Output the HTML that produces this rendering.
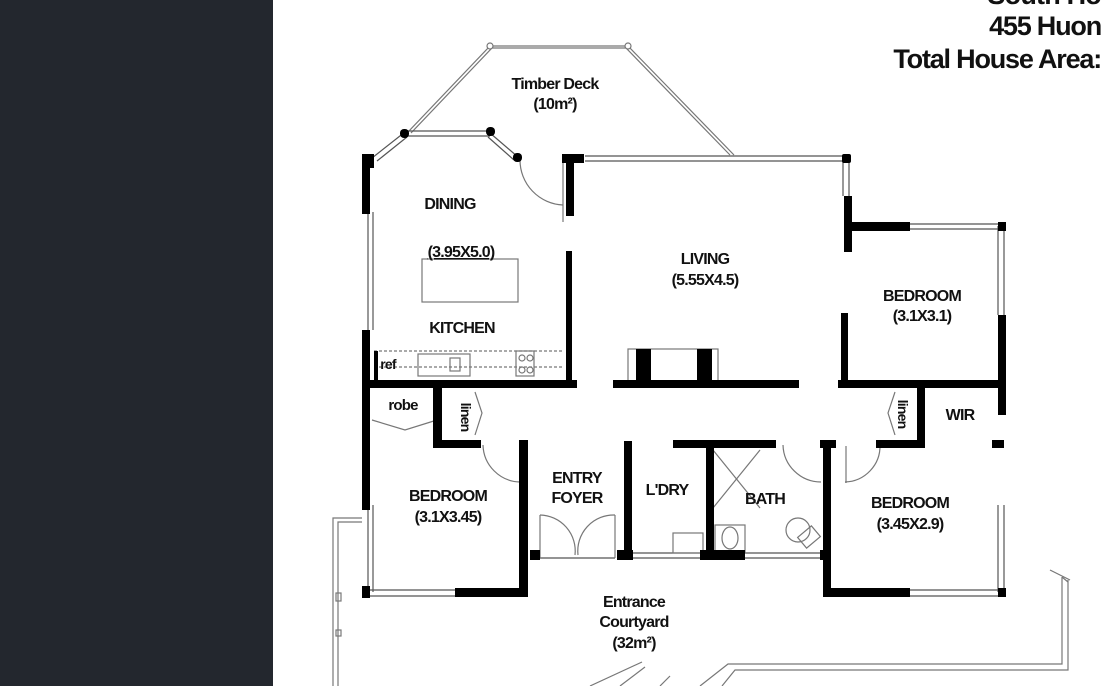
<!DOCTYPE html>
<html><head><style>
body{margin:0;width:1101px;height:686px;overflow:hidden;background:#fff}
svg{display:block}
text{font-family:"Liberation Sans",sans-serif;font-weight:bold;fill:#111;text-anchor:middle;letter-spacing:-0.8px}
</style></head><body>
<svg width="1101" height="686" viewBox="0 0 1101 686">
<rect x="0" y="0" width="273" height="686" fill="#23272e"/>
<!-- title -->
<text x="1101" y="4" font-size="27" style="text-anchor:end">South Ho</text>
<text x="1101" y="35" font-size="27" style="text-anchor:end;letter-spacing:-1.2px">455 Huon</text>
<text x="1101" y="68" font-size="27" style="text-anchor:end;letter-spacing:-1.2px">Total House Area:</text>

<g fill="none" stroke="#777" stroke-width="1.2">
<polyline points="408,132 490,46 628,46 734,155"/>
<polyline points="411,133 492,48 626,48 730,155"/>
<circle cx="490" cy="46" r="3" fill="#fff"/><circle cx="628" cy="46" r="3" fill="#fff"/>
<polyline points="362,518 333,518 333,686"/><polyline points="362,522 338,522 338,686"/>
<rect x="336" y="593" width="5" height="8"/><rect x="336" y="630" width="5" height="6"/>
<polyline points="1050,570 1070,580"/><line x1="1062" y1="577" x2="1068" y2="582"/>
<polyline points="1062,577 1062,664 728,664 700,686"/>
<polyline points="1068,580 1068,670 735,670 722,686"/>
<polyline points="642,662 590,686"/><polyline points="645,667 620,686"/>
<line x1="660" y1="686" x2="670" y2="676"/>
<g stroke="#555">
<line x1="368" y1="212" x2="368" y2="330"/><line x1="373" y1="212" x2="373" y2="330"/>
<line x1="405" y1="131" x2="490" y2="131"/><line x1="405" y1="136" x2="490" y2="136"/>
<line x1="372" y1="158" x2="405" y2="132"/><line x1="377" y1="161" x2="407" y2="137"/>
<line x1="490" y1="133" x2="518" y2="157"/><line x1="488" y1="137" x2="514" y2="160"/>
<line x1="585" y1="156" x2="845" y2="156"/><line x1="585" y1="161" x2="845" y2="161"/>
<line x1="843" y1="160" x2="843" y2="196"/><line x1="849" y1="160" x2="849" y2="196"/>
<line x1="910" y1="224" x2="1000" y2="224"/><line x1="910" y1="229" x2="1000" y2="229"/>
<line x1="998" y1="226" x2="998" y2="315"/><line x1="1004" y1="226" x2="1004" y2="315"/>
<line x1="998" y1="505" x2="998" y2="592"/><line x1="1004" y1="505" x2="1004" y2="592"/>
<line x1="368" y1="505" x2="368" y2="592"/><line x1="373" y1="505" x2="373" y2="592"/>
<line x1="368" y1="590" x2="455" y2="590"/><line x1="368" y1="596" x2="455" y2="596"/>
<line x1="910" y1="590" x2="1000" y2="590"/><line x1="910" y1="596" x2="1000" y2="596"/>
<line x1="633" y1="553" x2="700" y2="553"/><line x1="633" y1="558" x2="700" y2="558"/>
<line x1="745" y1="553" x2="820" y2="553"/><line x1="745" y1="558" x2="820" y2="558"/>
<line x1="540" y1="558" x2="615" y2="558"/>
</g>
<path d="M520,160 A45,45 0 0 0 563,205"/><line x1="563" y1="160" x2="563" y2="222"/>
<path d="M483,445 A38,38 0 0 0 520,482"/><line x1="520" y1="445" x2="520" y2="483"/>
<path d="M783,445 A38,38 0 0 0 821,482"/>
<path d="M880,445 A36,36 0 0 1 845,482"/><line x1="846" y1="446" x2="846" y2="483"/>
<path d="M540,515 A36,36 0 0 1 575,555"/><line x1="540" y1="515" x2="540" y2="558"/>
<path d="M615,515 A36,36 0 0 0 578,555"/><line x1="615" y1="515" x2="615" y2="558"/>
<polyline points="372,420 405,430 437,420"/>
<polyline points="475,392 482,413 475,435"/>
<polyline points="895,392 888,413 895,435"/>
<rect x="422" y="259" width="96" height="43"/>
<rect x="628" y="349" width="90" height="32"/>
<line x1="374" y1="351" x2="563" y2="351" stroke-dasharray="3,2"/>
<line x1="374" y1="367" x2="563" y2="367" stroke-dasharray="3,2"/>
<rect x="418" y="354" width="52" height="22"/><rect x="450" y="358" width="10" height="13"/>
<rect x="516" y="351" width="18" height="25"/><circle cx="522" cy="358" r="3"/><circle cx="530" cy="358" r="3"/><circle cx="522" cy="370" r="3"/><circle cx="530" cy="370" r="3"/>
<rect x="673" y="533" width="30" height="20"/>
<rect x="715" y="525" width="30" height="28"/><ellipse cx="730" cy="538" rx="8" ry="11"/>
<ellipse cx="798" cy="530" rx="12" ry="12"/><rect x="800" y="530" width="18" height="14" transform="rotate(-40 809 537)"/>
<line x1="713" y1="450" x2="760" y2="508"/><line x1="760" y1="450" x2="713" y2="508"/>
</g>

<g fill="#000">
<rect x="362" y="154" width="12" height="14"/>
<rect x="362" y="154" width="8" height="60"/>
<rect x="362" y="330" width="8" height="180"/>
<rect x="400" y="129" width="9" height="9" rx="4"/><rect x="486" y="127" width="9" height="9" rx="4"/><rect x="513" y="153" width="9" height="9" rx="4"/>
<rect x="562" y="154" width="22" height="9"/><rect x="566" y="154" width="8" height="62"/>
<rect x="566" y="251" width="6" height="135"/>
<rect x="842" y="154" width="9" height="9" rx="2"/>
<rect x="844" y="196" width="8" height="56"/><rect x="844" y="222" width="66" height="9"/>
<rect x="998" y="222" width="8" height="9"/>
<rect x="998" y="315" width="8" height="100"/><rect x="992" y="440" width="12" height="8"/>
<rect x="841" y="313" width="7" height="72"/>
<rect x="362" y="380" width="215" height="8"/>
<rect x="613" y="380" width="186" height="8"/>
<rect x="838" y="380" width="168" height="8"/>
<rect x="636" y="349" width="15" height="34"/><rect x="697" y="349" width="15" height="34"/>
<rect x="374" y="351" width="4" height="29"/>
<rect x="433" y="384" width="9" height="64"/><rect x="433" y="440" width="48" height="8"/>
<rect x="519" y="440" width="9" height="155"/>
<rect x="362" y="586" width="8" height="12"/>
<rect x="455" y="588" width="73" height="9"/>
<rect x="530" y="550" width="10" height="10"/>
<rect x="624" y="441" width="8" height="118"/><rect x="617" y="550" width="16" height="10"/>
<rect x="673" y="440" width="103" height="8"/>
<rect x="706" y="440" width="8" height="120"/><rect x="700" y="550" width="45" height="10"/>
<rect x="820" y="440" width="16" height="8"/><rect x="823" y="440" width="8" height="157"/>
<rect x="820" y="550" width="10" height="10"/>
<rect x="826" y="588" width="84" height="9"/>
<rect x="876" y="440" width="46" height="8"/><rect x="917" y="384" width="8" height="64"/>
<rect x="998" y="588" width="8" height="9"/>
</g>

<text x="555" y="89" font-size="16">Timber Deck</text>
<text x="555" y="109" font-size="16">(10m²)</text>
<text x="450" y="209" font-size="16">DINING</text>
<text x="461" y="257" font-size="16" text-decoration="underline">(3.95X5.0)</text>
<text x="462" y="333" font-size="16">KITCHEN</text>
<text x="388" y="369" font-size="14">ref</text>
<text x="705" y="264" font-size="16">LIVING</text>
<text x="705" y="285" font-size="16">(5.55X4.5)</text>
<text x="922" y="301" font-size="16">BEDROOM</text>
<text x="922" y="321" font-size="16">(3.1X3.1)</text>
<text x="403" y="410" font-size="15">robe</text>
<text x="461" y="417" font-size="14" transform="rotate(90 461 417)">linen</text>
<text x="898" y="414" font-size="14" transform="rotate(90 898 414)">linen</text>
<text x="960" y="420" font-size="16">WIR</text>
<text x="448" y="501" font-size="16">BEDROOM</text>
<text x="448" y="522" font-size="16">(3.1X3.45)</text>
<text x="577" y="483" font-size="16">ENTRY</text>
<text x="577" y="503" font-size="16">FOYER</text>
<text x="667" y="495" font-size="16">L'DRY</text>
<text x="765" y="504" font-size="16">BATH</text>
<text x="910" y="508" font-size="16">BEDROOM</text>
<text x="910" y="529" font-size="16">(3.45X2.9)</text>
<text x="634" y="607" font-size="16">Entrance</text>
<text x="634" y="627" font-size="16">Courtyard</text>
<text x="634" y="648" font-size="16">(32m²)</text>
</svg>
</body></html>
